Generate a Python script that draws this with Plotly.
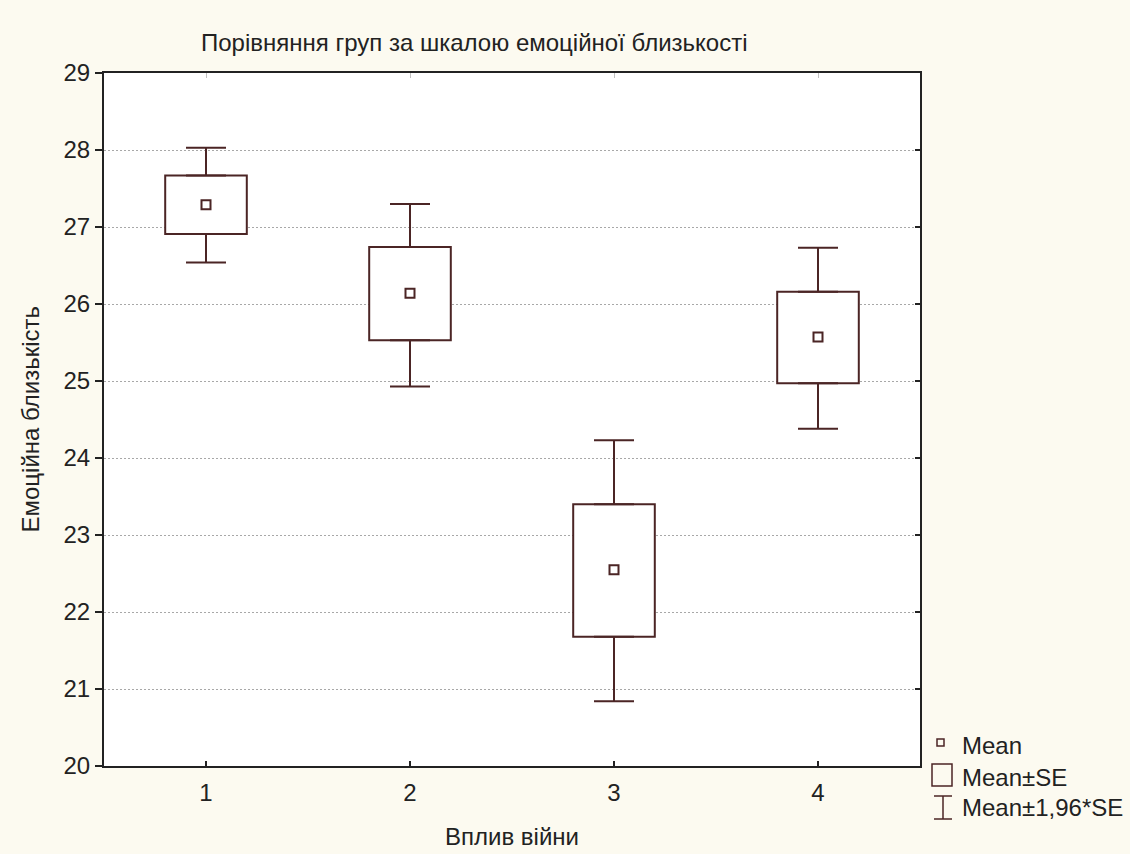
import plotly.graph_objects as go

groups = [1, 2, 3, 4]
means = [27.29, 26.14, 22.55, 25.57]
se_low = [26.91, 25.53, 21.68, 24.97]
se_high = [27.67, 26.74, 23.40, 26.16]
ci_low = [26.54, 24.93, 20.84, 24.38]
ci_high = [28.03, 27.30, 24.23, 26.73]
y_ticks = [20, 21, 22, 23, 24, 25, 26, 27, 28, 29]

title_text = "Порівняння груп за шкалою емоційної близькості"
x_title = "Вплив війни"
y_title = "Емоційна близькість"
legend_labels = ["Mean", "Mean±SE", "Mean±1,96*SE"]

col = "#4B2525"
font = "Liberation Sans, Arial, sans-serif"
fs = 24

fig = go.Figure()

# Upper whiskers (from box top to upper 1.96*SE bound)
fig.add_trace(go.Scatter(
    x=groups, y=se_high, mode="markers", marker=dict(size=1, opacity=0),
    error_y=dict(type="data", symmetric=False,
                 array=[h - s for h, s in zip(ci_high, se_high)],
                 arrayminus=[0] * 4, color=col, thickness=2, width=20),
    showlegend=False, hoverinfo="skip"))
# Lower whiskers
fig.add_trace(go.Scatter(
    x=groups, y=se_low, mode="markers", marker=dict(size=1, opacity=0),
    error_y=dict(type="data", symmetric=False,
                 array=[0] * 4,
                 arrayminus=[s - l for s, l in zip(se_low, ci_low)],
                 color=col, thickness=2, width=20),
    showlegend=False, hoverinfo="skip"))
# Boxes (Mean±SE)
fig.add_trace(go.Bar(
    x=groups, base=se_low, y=[h - l for h, l in zip(se_high, se_low)],
    width=0.4, marker=dict(color="white", line=dict(color=col, width=2)),
    showlegend=False, hoverinfo="skip"))
# Means
fig.add_trace(go.Scatter(
    x=groups, y=means, mode="markers",
    marker=dict(symbol="square-open", size=9, color=col, line=dict(width=2, color=col)),
    showlegend=False))
# invisible trace so mirrored axes (top / right ticks) are drawn
fig.add_trace(go.Scatter(x=[1], y=[25], xaxis="x2", yaxis="y2", mode="markers",
                         marker=dict(opacity=0), showlegend=False, hoverinfo="skip"))

fig.update_layout(
    width=1130, height=854,
    margin=dict(l=104, r=210, t=73, b=88),
    paper_bgcolor="#FCFAF0", plot_bgcolor="white",
    font=dict(family=font, size=fs, color="#222222"),
    barmode="overlay",
    xaxis=dict(range=[0.5, 4.5], tickvals=groups, ticktext=[str(g) for g in groups],
               ticks="inside", ticklen=5, tickwidth=2, tickcolor="#222",
               ticklabelstandoff=4,
               showgrid=False, zeroline=False, showline=True, linecolor="#222",
               linewidth=2, mirror=True, tickfont=dict(size=fs)),
    yaxis=dict(range=[20, 29], tickvals=y_ticks, ticks="outside", ticklen=7,
               tickwidth=1.5, tickcolor="#222", showgrid=True, gridcolor="#a8a8a8",
               griddash="2px,2px", gridwidth=1, zeroline=False, showline=True,
               linecolor="#222", linewidth=2, mirror=True, tickfont=dict(size=fs)),
    xaxis2=dict(range=[0.5, 4.5], overlaying="x", side="top", tickvals=groups,
                ticks="inside", ticklen=5, tickcolor="#c0c0c0", showticklabels=False,
                showgrid=False, zeroline=False, showline=False),
    yaxis2=dict(range=[20, 29], overlaying="y", side="right", tickvals=y_ticks,
                ticks="inside", ticklen=5, tickwidth=1.5, tickcolor="#222",
                showticklabels=False, showgrid=False, zeroline=False, showline=False),
)

# Legend drawn manually (pixel offsets from bottom-right corner of plot)
shapes = [
    dict(type="rect", xref="paper", yref="paper", xsizemode="pixel", ysizemode="pixel",
         xanchor=1, yanchor=0, x0=17, x1=24, y0=20, y1=27,
         line=dict(color=col, width=1.5), fillcolor="rgba(0,0,0,0)"),
    dict(type="rect", xref="paper", yref="paper", xsizemode="pixel", ysizemode="pixel",
         xanchor=1, yanchor=0, x0=12, x1=32, y0=-20, y1=2,
         line=dict(color=col, width=1.5), fillcolor="rgba(0,0,0,0)"),
    dict(type="line", xref="paper", yref="paper", xsizemode="pixel", ysizemode="pixel",
         xanchor=1, yanchor=0, x0=23, x1=23, y0=-30, y1=-53,
         line=dict(color=col, width=1.5)),
    dict(type="line", xref="paper", yref="paper", xsizemode="pixel", ysizemode="pixel",
         xanchor=1, yanchor=0, x0=14, x1=32, y0=-30, y1=-30,
         line=dict(color=col, width=1.5)),
    dict(type="line", xref="paper", yref="paper", xsizemode="pixel", ysizemode="pixel",
         xanchor=1, yanchor=0, x0=14, x1=32, y0=-53, y1=-53,
         line=dict(color=col, width=1.5)),
]
fig.update_layout(shapes=shapes)

ann = []
for lbl, ys in zip(legend_labels, [21, -11, -41]):
    ann.append(dict(text=lbl, xref="paper", yref="paper", x=1, y=0, xshift=40, yshift=ys,
                    xanchor="left", yanchor="middle", showarrow=False,
                    font=dict(size=fs, color="#222")))
ann.append(dict(text=title_text, xref="paper", yref="paper", x=(474 - 104) / 816,
                y=1, yshift=31, xanchor="center", yanchor="middle", showarrow=False,
                font=dict(size=fs, color="#222")))
ann.append(dict(text=x_title, xref="paper", yref="paper", x=0.5, y=0, yshift=-70,
                xanchor="center", yanchor="middle", showarrow=False,
                font=dict(size=fs, color="#222")))
ann.append(dict(text=y_title, xref="paper", yref="paper", x=0, xshift=-74, y=0.5,
                xanchor="center", yanchor="middle", textangle=-90, showarrow=False,
                font=dict(size=fs, color="#222")))
fig.update_layout(annotations=ann)

fig.write_html("out.html", config={"displayModeBar": False},
               post_script="document.body.style.margin='0';document.body.style.overflow='hidden';")
